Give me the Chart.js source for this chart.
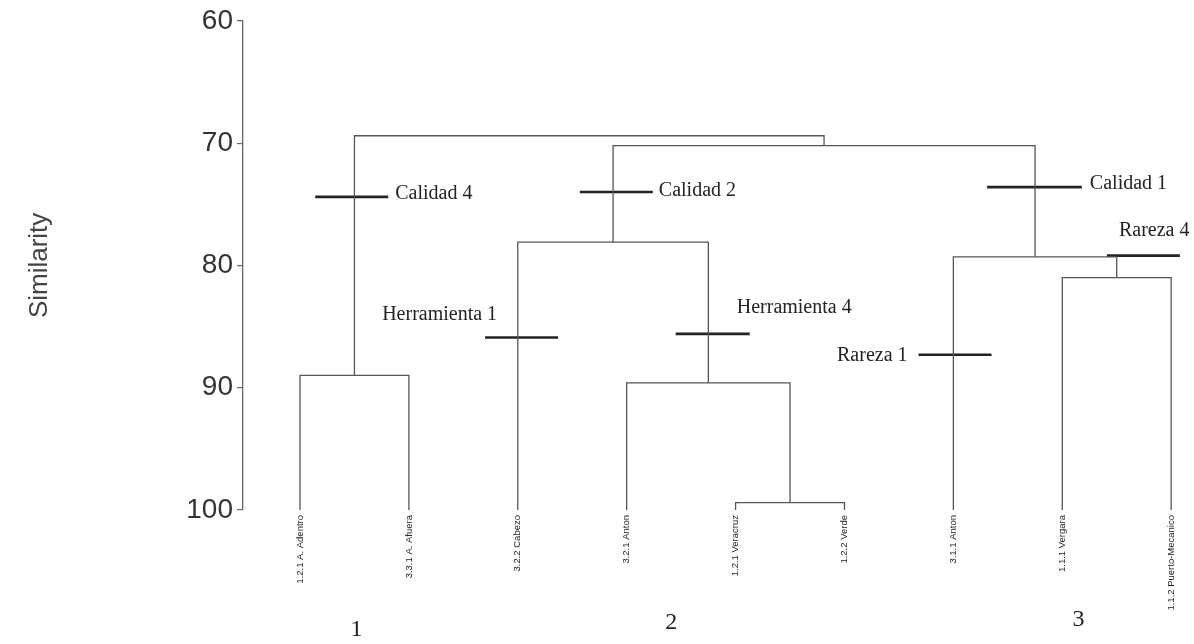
<!DOCTYPE html>
<html>
<head>
<meta charset="utf-8">
<script src="https://cdn.jsdelivr.net/npm/chart.js@4.4.1/dist/chart.umd.min.js"></script>
<style>
  html, body { margin: 0; padding: 0; background: #fff; }
  #wrap { width: 1194px; height: 644px; }
</style>
</head>
<body>
<div id="wrap"><canvas id="dendro"></canvas></div>
<script>
// leaves (left to right), position i+1 on the x scale
const leafNames = [
    '1.2.1 A. Adentro', '3.3.1 A. Afuera', '3.2.2 Cabezo', '3.2.1 Anton',
    '1.2.1 Veracruz', '1.2.2 Verde', '3.1.1 Anton', '1.1.1 Vergara',
    '1.1.2 Puerto-Mecanico'
];

// linkage: node ids 0..8 are leaves, merge k creates node 9+k
const mergeLeft   = [0, 4, 3,  2, 7, 6, 12,  9];
const mergeRight  = [1, 5, 10, 11, 8, 13, 14, 15];
const mergeHeight = [89.0, 99.4, 89.6, 78.1, 81.0, 79.3, 70.2, 69.4];

// trait markers cut across branches (similarity level, x extent in leaf units)
const markerNames = ['Calidad 4', 'Calidad 2', 'Herramienta 1', 'Herramienta 4', 'Calidad 1', 'Rareza 1', 'Rareza 4'];
const markerY     = [74.4, 74.0, 85.9, 85.6, 73.6, 87.3, 79.2];
const markerFrom  = [1.14, 3.57, 2.70, 4.45, 7.31, 6.68, 8.41];
const markerTo    = [1.81, 4.24, 3.37, 5.13, 8.18, 7.35, 9.08];

// cluster group labels under the leaves
const groupNames = ['1', '2', '3'];
const groupX     = [1.52, 4.41, 8.15];

const yTicks = [60, 70, 80, 90, 100];

// build node coordinates from the linkage
const nodeX = leafNames.map((_, i) => i + 1);
const nodeH = leafNames.map(() => 100);
const datasets = [];
mergeLeft.forEach((l, k) => {
    const r = mergeRight[k], h = mergeHeight[k];
    datasets.push({
        data: [
            { x: nodeX[l], y: nodeH[l] }, { x: nodeX[l], y: h },
            { x: nodeX[r], y: h }, { x: nodeX[r], y: nodeH[r] }
        ],
        borderColor: '#555', borderWidth: 1.3
    });
    nodeX.push((nodeX[l] + nodeX[r]) / 2);
    nodeH.push(h);
});
markerNames.forEach((n, i) => {
    datasets.push({
        data: [{ x: markerFrom[i], y: markerY[i] }, { x: markerTo[i], y: markerY[i] }],
        borderColor: '#222', borderWidth: 2.6
    });
});

// where each marker's text sits, relative to its line (px)
// anchor: which end of the line, align: text alignment
const textPlace = [
    { anchor: 'to',   align: 'left',  dx: 7,   dy: -3 },
    { anchor: 'to',   align: 'left',  dx: 6,   dy: -1 },
    { anchor: 'from', align: 'right', dx: 12,  dy: -23 },
    { anchor: 'to',   align: 'left',  dx: -13, dy: -26 },
    { anchor: 'to',   align: 'left',  dx: 8,   dy: -3 },
    { anchor: 'from', align: 'right', dx: -11, dy: 1 },
    { anchor: 'from', align: 'left',  dx: 12,  dy: -25 }
];
const groupDy = [120, 113, 110];

const labelPlugin = {
    id: 'labels',
    afterDatasetsDraw(chart) {
        const { ctx, scales: { x, y }, chartArea } = chart;
        ctx.save();
        ctx.fillStyle = '#222';
        ctx.font = '20px "Liberation Serif", "Times New Roman", serif';
        ctx.textBaseline = 'middle';
        markerNames.forEach((name, i) => {
            const p = textPlace[i];
            const px = x.getPixelForValue(p.anchor === 'to' ? markerTo[i] : markerFrom[i]) + p.dx;
            ctx.textAlign = p.align;
            ctx.fillText(name, px, y.getPixelForValue(markerY[i]) + p.dy);
        });
        ctx.font = '24px "Liberation Serif", "Times New Roman", serif';
        ctx.textAlign = 'center';
        groupNames.forEach((g, i) => {
            ctx.fillText(g, x.getPixelForValue(groupX[i]), chartArea.bottom + groupDy[i]);
        });
        ctx.restore();
    }
};

const ctx = document.getElementById('dendro').getContext('2d');
new Chart(ctx, {
    type: 'scatter',
    data: { datasets },
    options: {
        responsive: true,
        maintainAspectRatio: false,
        animation: false,
        showLine: true,
        elements: { point: { radius: 0, hoverRadius: 0 }, line: { tension: 0 } },
        layout: { padding: { top: 20, right: 4, left: 0, bottom: 0 } },
        plugins: { legend: { display: false }, tooltip: { enabled: false } },
        scales: {
            x: {
                type: 'linear',
                min: 0.4766,
                max: 9.173,
                grid: { display: false, drawTicks: false },
                border: { display: false },
                afterBuildTicks: s => { s.ticks = leafNames.map((_, i) => ({ value: i + 1 })); },
                afterFit: s => { s.height = 134; },
                ticks: {
                    autoSkip: false,
                    minRotation: 90,
                    maxRotation: 90,
                    padding: 5,
                    color: '#222',
                    font: { family: '"Liberation Sans", Arial, sans-serif', size: 9.5 },
                    callback: v => leafNames[v - 1]
                }
            },
            y: {
                type: 'linear',
                reverse: true,
                min: 60,
                max: 100,
                afterBuildTicks: s => { s.ticks = yTicks.map(v => ({ value: v })); },
                afterFit: s => { s.width = 243; },
                grid: { drawOnChartArea: false, tickLength: 6, color: '#666', lineWidth: 1.2 },
                border: { color: '#666', width: 1.3 },
                ticks: {
                    padding: 4,
                    color: '#333',
                    font: { family: '"Liberation Sans", Arial, sans-serif', size: 28 }
                },
                title: {
                    display: true,
                    text: 'Similarity',
                    color: '#444',
                    padding: { top: 24, bottom: 0 },
                    font: { family: '"Liberation Sans", Arial, sans-serif', size: 26 }
                }
            }
        }
    },
    plugins: [labelPlugin]
});
</script>
</body>
</html>
